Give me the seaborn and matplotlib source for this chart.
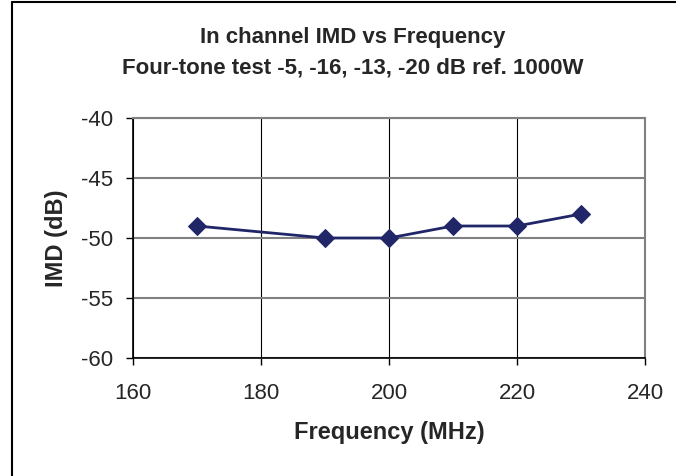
import matplotlib
matplotlib.use('Agg')
import matplotlib.pyplot as plt
import seaborn as sns
import pandas as pd

freq = [170, 190, 200, 210, 220, 230]
imd = [-49, -50, -50, -49, -49, -48]
x_ticks = [160, 180, 200, 220, 240]
y_ticks = [-60, -55, -50, -45, -40]

sns.set_style('white')
plt.rcParams['font.family'] = ['Liberation Sans', 'DejaVu Sans']
plt.rcParams['axes.unicode_minus'] = False

df = pd.DataFrame({'Frequency': freq, 'IMD': imd})

fig = plt.figure(figsize=(6.76, 4.76), dpi=100)
ax = fig.add_axes([133 / 676, 1 - 358 / 476, 512 / 676, 240 / 476])

sns.lineplot(data=df, x='Frequency', y='IMD', ax=ax, color='#212668',
             marker='D', markersize=9, markeredgecolor='#212668',
             linewidth=2, zorder=3)

ax.set_xlim(160, 240)
ax.set_ylim(-60, -40)
ax.set_xticks(x_ticks)
ax.set_yticks(y_ticks)
ax.tick_params(axis='both', labelsize=16, direction='out', length=5,
               width=1, color='black', left=True, bottom=True)
ax.tick_params(axis='x', pad=13)
ax.tick_params(axis='y', pad=9)

ax.yaxis.grid(True, color='#808080', linewidth=1.5)
ax.xaxis.grid(True, color='black', linewidth=0.8)
ax.set_axisbelow(True)

for side in ['left', 'bottom']:
    ax.spines[side].set_color('black')
    ax.spines[side].set_linewidth(1.2)
for side in ['top', 'right']:
    ax.spines[side].set_color('#808080')
    ax.spines[side].set_linewidth(1.5)

ax.set_xlabel('Frequency (MHz)', fontsize=17, fontweight='bold', labelpad=12)
ax.set_ylabel('IMD (dB)', fontsize=17, fontweight='bold', labelpad=10)

fig.text(353 / 676, 1 - 38 / 476, 'In channel IMD vs Frequency', ha='center',
         va='center', fontsize=16, fontweight='bold')
fig.text(353 / 676, 1 - 68 / 476, 'Four-tone test -5, -16, -13, -20 dB ref. 1000W',
         ha='center', va='center', fontsize=16, fontweight='bold')

# chart border (only top and left edges fall inside the image)
fig.add_artist(plt.Line2D([12 / 676, 12 / 676], [0, 1 - 2 / 476],
                          transform=fig.transFigure, color='black', linewidth=1.5))
fig.add_artist(plt.Line2D([12 / 676, 1], [1 - 2 / 476, 1 - 2 / 476],
                          transform=fig.transFigure, color='black', linewidth=1.5))

fig.savefig('out.png', dpi=100)
